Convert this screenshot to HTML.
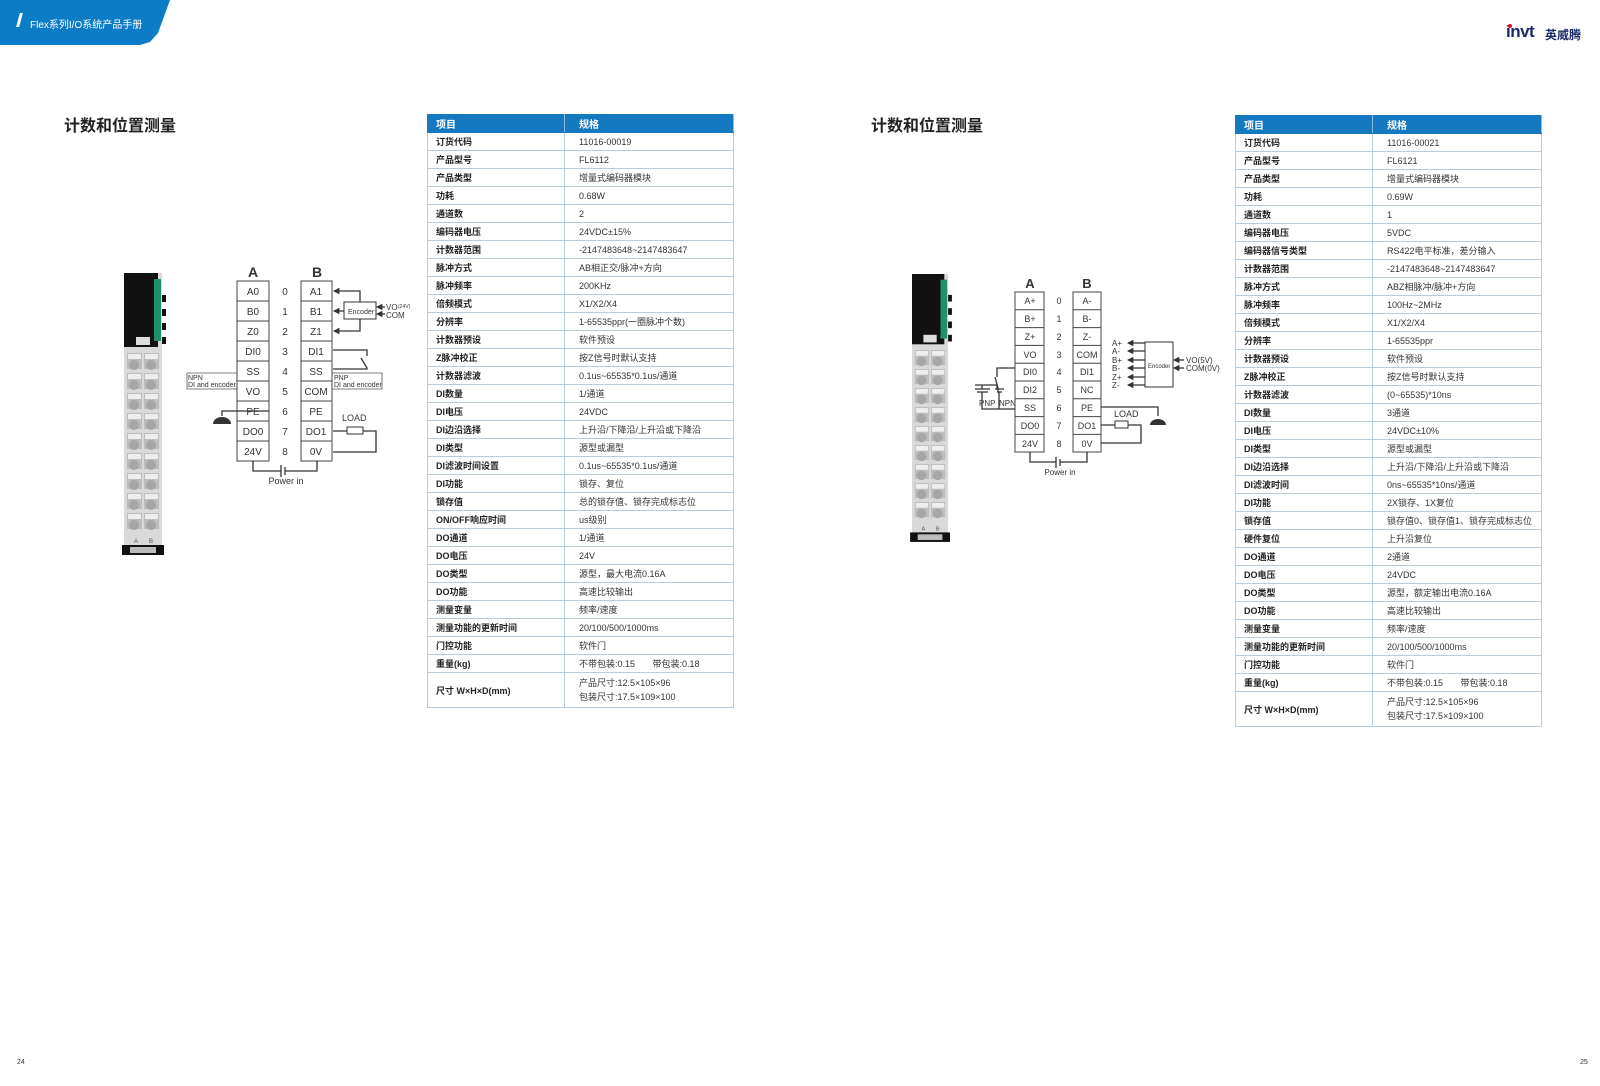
<!DOCTYPE html>
<html><head><meta charset="utf-8">
<style>
html,body{margin:0;padding:0;background:#fff;}
body{width:1600px;height:1086px;position:relative;overflow:hidden;font-family:"Liberation Sans","Noto Sans CJK SC",sans-serif;}
.tab{position:absolute;left:0;top:0;width:170px;height:45px;background:#0c7cc6;clip-path:polygon(0 0,170px 0,158px 33px,150px 42px,140px 45px,0 45px);}
.tab span{position:absolute;left:30px;top:16px;color:#fff;font-size:10px;}
.tab i{position:absolute;left:18px;top:13px;width:3px;height:14px;background:#fff;transform:skewX(-15deg);}
.title{position:absolute;top:112px;font-size:16px;font-weight:bold;color:#222;}
table.spec{position:absolute;border-collapse:collapse;font-size:9px;color:#333;table-layout:fixed;}
table.spec td{border:1px solid #b5cddd;height:17px;padding:0;white-space:nowrap;overflow:hidden;}
table.spec td.k{padding-left:8px;font-weight:bold;color:#222;}
table.spec td.v{padding-left:14px;}
table.spec tr.h td{background:#1479c1;color:#fff;font-weight:bold;font-size:10px;border-color:#1479c1;border-right-color:#8cbce0;}
table.spec tr.big td{height:34px;}
.pn{position:absolute;top:1059px;font-size:7px;color:#333;}
</style></head><body>
<div class="tab"><i></i><span>Flex系列I/O系统产品手册</span></div>
<div style="position:absolute;left:1506px;top:22px;font-size:17px;font-weight:900;color:#1b2a6b;letter-spacing:-0.5px;">invt</div>
<div style="position:absolute;left:1508px;top:24px;width:4px;height:4px;border-radius:2px;background:#d0102a;"></div>
<div style="position:absolute;left:1545px;top:26px;font-size:12px;font-weight:bold;color:#1b2a6b;">英威腾</div>

<div class="title" style="left:64px;">计数和位置测量</div>
<div class="title" style="left:871px;">计数和位置测量</div>

<table class="spec" style="left:427px;top:114px;width:306px;">
<colgroup><col style="width:137px"><col style="width:169px"></colgroup>
<tr class="h"><td class="k">项目</td><td class="v">规格</td></tr>
<tr><td class="k">订货代码</td><td class="v">11016-00019</td></tr>
<tr><td class="k">产品型号</td><td class="v">FL6112</td></tr>
<tr><td class="k">产品类型</td><td class="v">增量式编码器模块</td></tr>
<tr><td class="k">功耗</td><td class="v">0.68W</td></tr>
<tr><td class="k">通道数</td><td class="v">2</td></tr>
<tr><td class="k">编码器电压</td><td class="v">24VDC±15%</td></tr>
<tr><td class="k">计数器范围</td><td class="v">-2147483648~2147483647</td></tr>
<tr><td class="k">脉冲方式</td><td class="v">AB相正交/脉冲+方向</td></tr>
<tr><td class="k">脉冲频率</td><td class="v">200KHz</td></tr>
<tr><td class="k">倍频模式</td><td class="v">X1/X2/X4</td></tr>
<tr><td class="k">分辨率</td><td class="v">1-65535ppr(一圈脉冲个数)</td></tr>
<tr><td class="k">计数器预设</td><td class="v">软件预设</td></tr>
<tr><td class="k">Z脉冲校正</td><td class="v">按Z信号时默认支持</td></tr>
<tr><td class="k">计数器滤波</td><td class="v">0.1us~65535*0.1us/通道</td></tr>
<tr><td class="k">DI数量</td><td class="v">1/通道</td></tr>
<tr><td class="k">DI电压</td><td class="v">24VDC</td></tr>
<tr><td class="k">DI边沿选择</td><td class="v">上升沿/下降沿/上升沿或下降沿</td></tr>
<tr><td class="k">DI类型</td><td class="v">源型或漏型</td></tr>
<tr><td class="k">DI滤波时间设置</td><td class="v">0.1us~65535*0.1us/通道</td></tr>
<tr><td class="k">DI功能</td><td class="v">锁存、复位</td></tr>
<tr><td class="k">锁存值</td><td class="v">总的锁存值、锁存完成标志位</td></tr>
<tr><td class="k">ON/OFF响应时间</td><td class="v">us级别</td></tr>
<tr><td class="k">DO通道</td><td class="v">1/通道</td></tr>
<tr><td class="k">DO电压</td><td class="v">24V</td></tr>
<tr><td class="k">DO类型</td><td class="v">源型，最大电流0.16A</td></tr>
<tr><td class="k">DO功能</td><td class="v">高速比较输出</td></tr>
<tr><td class="k">测量变量</td><td class="v">频率/速度</td></tr>
<tr><td class="k">测量功能的更新时间</td><td class="v">20/100/500/1000ms</td></tr>
<tr><td class="k">门控功能</td><td class="v">软件门</td></tr>
<tr><td class="k">重量(kg)</td><td class="v">不带包装:0.15&nbsp;&nbsp;&nbsp;&nbsp;&nbsp;&nbsp;&nbsp;带包装:0.18</td></tr>
<tr class="big"><td class="k">尺寸 W×H×D(mm)</td><td class="v" style="line-height:14px;">产品尺寸:12.5×105×96<br>包装尺寸:17.5×109×100</td></tr>
</table>

<table class="spec" style="left:1235px;top:115px;width:306px;">
<colgroup><col style="width:137px"><col style="width:169px"></colgroup>
<tr class="h"><td class="k">项目</td><td class="v">规格</td></tr>
<tr><td class="k">订货代码</td><td class="v">11016-00021</td></tr>
<tr><td class="k">产品型号</td><td class="v">FL6121</td></tr>
<tr><td class="k">产品类型</td><td class="v">增量式编码器模块</td></tr>
<tr><td class="k">功耗</td><td class="v">0.69W</td></tr>
<tr><td class="k">通道数</td><td class="v">1</td></tr>
<tr><td class="k">编码器电压</td><td class="v">5VDC</td></tr>
<tr><td class="k">编码器信号类型</td><td class="v">RS422电平标准，差分输入</td></tr>
<tr><td class="k">计数器范围</td><td class="v">-2147483648~2147483647</td></tr>
<tr><td class="k">脉冲方式</td><td class="v">ABZ相脉冲/脉冲+方向</td></tr>
<tr><td class="k">脉冲频率</td><td class="v">100Hz~2MHz</td></tr>
<tr><td class="k">倍频模式</td><td class="v">X1/X2/X4</td></tr>
<tr><td class="k">分辨率</td><td class="v">1-65535ppr</td></tr>
<tr><td class="k">计数器预设</td><td class="v">软件预设</td></tr>
<tr><td class="k">Z脉冲校正</td><td class="v">按Z信号时默认支持</td></tr>
<tr><td class="k">计数器滤波</td><td class="v">(0~65535)*10ns</td></tr>
<tr><td class="k">DI数量</td><td class="v">3通道</td></tr>
<tr><td class="k">DI电压</td><td class="v">24VDC±10%</td></tr>
<tr><td class="k">DI类型</td><td class="v">源型或漏型</td></tr>
<tr><td class="k">DI边沿选择</td><td class="v">上升沿/下降沿/上升沿或下降沿</td></tr>
<tr><td class="k">DI滤波时间</td><td class="v">0ns~65535*10ns/通道</td></tr>
<tr><td class="k">DI功能</td><td class="v">2X锁存、1X复位</td></tr>
<tr><td class="k">锁存值</td><td class="v">锁存值0、锁存值1、锁存完成标志位</td></tr>
<tr><td class="k">硬件复位</td><td class="v">上升沿复位</td></tr>
<tr><td class="k">DO通道</td><td class="v">2通道</td></tr>
<tr><td class="k">DO电压</td><td class="v">24VDC</td></tr>
<tr><td class="k">DO类型</td><td class="v">源型，额定输出电流0.16A</td></tr>
<tr><td class="k">DO功能</td><td class="v">高速比较输出</td></tr>
<tr><td class="k">测量变量</td><td class="v">频率/速度</td></tr>
<tr><td class="k">测量功能的更新时间</td><td class="v">20/100/500/1000ms</td></tr>
<tr><td class="k">门控功能</td><td class="v">软件门</td></tr>
<tr><td class="k">重量(kg)</td><td class="v">不带包装:0.15&nbsp;&nbsp;&nbsp;&nbsp;&nbsp;&nbsp;&nbsp;带包装:0.18</td></tr>
<tr class="big"><td class="k">尺寸 W×H×D(mm)</td><td class="v" style="line-height:14px;">产品尺寸:12.5×105×96<br>包装尺寸:17.5×109×100</td></tr>
</table>

<svg width="1600" height="1086" style="position:absolute;left:0;top:0;" font-family="Liberation Sans, sans-serif">
<defs>
<marker id="ar" viewBox="0 0 6 6" refX="5" refY="3" markerWidth="5" markerHeight="5" orient="auto"><path d="M0,0L6,3L0,6z" fill="#333"/></marker>
<g id="dev">
<rect x="0" y="0" width="38" height="282" fill="#d9d9d9"/>
<rect x="0" y="0" width="34" height="74" fill="#111"/>
<rect x="30" y="6" width="7" height="62" fill="#1f8f6c"/>
<rect x="38" y="22" width="4" height="7" fill="#111"/><rect x="38" y="36" width="4" height="7" fill="#111"/><rect x="38" y="50" width="4" height="7" fill="#111"/><rect x="38" y="64" width="4" height="7" fill="#111"/>
<rect x="12" y="64" width="14" height="8" fill="#ddd"/>
<rect x="-2" y="272" width="42" height="10" fill="#111"/>
<rect x="6" y="274" width="26" height="6" fill="#bbb"/>
</g>
<g id="cells">
<rect x="3" y="0" width="15" height="16" fill="#bdbdbd"/><rect x="20" y="0" width="15" height="16" fill="#bdbdbd"/>
<rect x="4" y="1" width="13" height="5" fill="#eee"/><rect x="21" y="1" width="13" height="5" fill="#eee"/>
<circle cx="10" cy="12" r="5" fill="#a6a6a6"/><circle cx="27" cy="12" r="5" fill="#a6a6a6"/>
</g>
</defs>
<!-- left device -->
<g transform="translate(124,273)"><use href="#dev"/>
<g transform="translate(0,80)"><use href="#cells"/></g><g transform="translate(0,100)"><use href="#cells"/></g><g transform="translate(0,120)"><use href="#cells"/></g><g transform="translate(0,140)"><use href="#cells"/></g><g transform="translate(0,160)"><use href="#cells"/></g><g transform="translate(0,180)"><use href="#cells"/></g><g transform="translate(0,200)"><use href="#cells"/></g><g transform="translate(0,220)"><use href="#cells"/></g><g transform="translate(0,240)"><use href="#cells"/></g>
<text x="10" y="270" font-size="6" fill="#555">A</text><text x="25" y="270" font-size="6" fill="#555">B</text>
</g>
<!-- right device -->
<g transform="translate(912,274) scale(0.95)"><use href="#dev"/>
<g transform="translate(0,80)"><use href="#cells"/></g><g transform="translate(0,100)"><use href="#cells"/></g><g transform="translate(0,120)"><use href="#cells"/></g><g transform="translate(0,140)"><use href="#cells"/></g><g transform="translate(0,160)"><use href="#cells"/></g><g transform="translate(0,180)"><use href="#cells"/></g><g transform="translate(0,200)"><use href="#cells"/></g><g transform="translate(0,220)"><use href="#cells"/></g><g transform="translate(0,240)"><use href="#cells"/></g>
<text x="10" y="270" font-size="6" fill="#555">A</text><text x="25" y="270" font-size="6" fill="#555">B</text>
</g>

<!-- LEFT DIAGRAM -->
<g stroke="#444" stroke-width="1" fill="#fff">
<rect x="237" y="281" width="32" height="180"/>
<rect x="301" y="281" width="31" height="180"/>
<path d="M237 301H269M237 321H269M237 341H269M237 361H269M237 381H269M237 401H269M237 421H269M237 441H269" fill="none"/>
<path d="M301 301H332M301 321H332M301 341H332M301 361H332M301 381H332M301 401H332M301 421H332M301 441H332" fill="none"/>
</g>
<g font-size="10" fill="#333" text-anchor="middle">
<text x="253" y="277" font-size="14" font-weight="bold">A</text><text x="317" y="277" font-size="14" font-weight="bold">B</text>
<text x="253" y="295">A0</text><text x="253" y="315">B0</text><text x="253" y="335">Z0</text><text x="253" y="355">DI0</text><text x="253" y="375">SS</text><text x="253" y="395">VO</text><text x="253" y="415">PE</text><text x="253" y="435">DO0</text><text x="253" y="455">24V</text>
<text x="316" y="295">A1</text><text x="316" y="315">B1</text><text x="316" y="335">Z1</text><text x="316" y="355">DI1</text><text x="316" y="375">SS</text><text x="316" y="395">COM</text><text x="316" y="415">PE</text><text x="316" y="435">DO1</text><text x="316" y="455">0V</text>
<text x="285" y="295">0</text><text x="285" y="315">1</text><text x="285" y="335">2</text><text x="285" y="355">3</text><text x="285" y="375">4</text><text x="285" y="395">5</text><text x="285" y="415">6</text><text x="285" y="435">7</text><text x="285" y="455">8</text>
<text x="286" y="484" font-size="9">Power in</text>
</g>
<g stroke="#333" stroke-width="1.3" fill="none">
<rect x="344" y="302" width="32" height="17" stroke-width="1" fill="#fff"/>
<path d="M360 302V291H334" marker-end="url(#ar)"/>
<path d="M360 319V331H334" marker-end="url(#ar)"/>
<path d="M344 311H334" marker-end="url(#ar)"/>
<path d="M385 307H377" marker-end="url(#ar)"/>
<path d="M385 314H377" marker-end="url(#ar)"/>
<path d="M333 350H367V356M361 358L367 368V369H333" />
<path d="M269 411H222V416"/>
<path d="M333 431H347M363 431H376V452H333"/>
<rect x="347" y="427" width="16" height="7" stroke-width="1"/>
<path d="M253 461V471H281M285 471H317V461"/>
<path d="M281 465V477M285 467V475"/>
</g>
<path d="M213 424a9 7 0 0 1 18 0z" fill="#333"/>
<g font-size="7" fill="#333">
<text x="348" y="314">Encoder</text>
<text x="386" y="310" font-size="8">VO</text><text x="398" y="308" font-size="5">(24V)</text>
<text x="386" y="318" font-size="8">COM</text>
<text x="188" y="380">NPN</text><text x="188" y="387">DI and encoder</text>
<text x="334" y="380">PNP</text><text x="334" y="387">DI and encoder</text>
<text x="342" y="421" font-size="9">LOAD</text>
</g>
<g stroke="#555" stroke-width="0.8" fill="none">
<path d="M237 373H187V389H237"/><path d="M332 373H382V389H332"/>
</g>

<!-- RIGHT DIAGRAM -->
<g stroke="#444" stroke-width="1" fill="#fff">
<rect x="1015" y="292" width="29" height="160"/>
<rect x="1073" y="292" width="28" height="160"/>
<path d="M1015 309.8H1044M1015 327.6H1044M1015 345.4H1044M1015 363.2H1044M1015 381H1044M1015 398.8H1044M1015 416.6H1044M1015 434.4H1044" fill="none"/>
<path d="M1073 309.8H1101M1073 327.6H1101M1073 345.4H1101M1073 363.2H1101M1073 381H1101M1073 398.8H1101M1073 416.6H1101M1073 434.4H1101" fill="none"/>
</g>
<g font-size="9" fill="#333" text-anchor="middle">
<text x="1030" y="288" font-size="13" font-weight="bold">A</text><text x="1087" y="288" font-size="13" font-weight="bold">B</text>
<text x="1030" y="304">A+</text><text x="1030" y="322">B+</text><text x="1030" y="340">Z+</text><text x="1030" y="358">VO</text><text x="1030" y="375">DI0</text><text x="1030" y="393">DI2</text><text x="1030" y="411">SS</text><text x="1030" y="429">DO0</text><text x="1030" y="447">24V</text>
<text x="1087" y="304">A-</text><text x="1087" y="322">B-</text><text x="1087" y="340">Z-</text><text x="1087" y="358">COM</text><text x="1087" y="375">DI1</text><text x="1087" y="393">NC</text><text x="1087" y="411">PE</text><text x="1087" y="429">DO1</text><text x="1087" y="447">0V</text>
<text x="1059" y="304">0</text><text x="1059" y="322">1</text><text x="1059" y="340">2</text><text x="1059" y="358">3</text><text x="1059" y="375">4</text><text x="1059" y="393">5</text><text x="1059" y="411">6</text><text x="1059" y="429">7</text><text x="1059" y="447">8</text>
<text x="1060" y="475" font-size="8">Power in</text>
</g>
<g stroke="#333" stroke-width="1.3" fill="none">
<rect x="1145" y="342" width="28" height="45" stroke-width="1" fill="#fff"/>
<path d="M1145 343H1128" marker-end="url(#ar)"/><path d="M1145 351H1128" marker-end="url(#ar)"/>
<path d="M1145 360H1128" marker-end="url(#ar)"/><path d="M1145 368H1128" marker-end="url(#ar)"/>
<path d="M1145 377H1128" marker-end="url(#ar)"/><path d="M1145 385H1128" marker-end="url(#ar)"/>
<path d="M1184 360H1174" marker-end="url(#ar)"/><path d="M1184 368H1174" marker-end="url(#ar)"/>
<path d="M1015 368H997V377M995 377L998 388M998 388V392"/>
<path d="M975 389H990M977 392H988M995 389H1004M997 392H1002" />
<path d="M975 385H997V389M982 385V389"/>
<path d="M982 392V409H1015M999 392V409"/>
<path d="M1101 407H1158V416"/>
<path d="M1101 425H1115M1128 425H1141V443H1101"/>
<rect x="1115" y="421" width="13" height="7" stroke-width="1"/>
<path d="M1030 452V462H1056M1060 462H1087V452"/>
<path d="M1056 457V468M1060 459V466"/>
</g>
<path d="M1150 425a8 6 0 0 1 16 0z" fill="#333"/>
<g font-size="8" fill="#333">
<text x="1112" y="346">A+</text><text x="1112" y="354">A-</text><text x="1112" y="363">B+</text><text x="1112" y="371">B-</text><text x="1112" y="380">Z+</text><text x="1112" y="388">Z-</text>
<text x="1148" y="368" font-size="6">Encoder</text>
<text x="1186" y="363">VO(5V)</text><text x="1186" y="371">COM(0V)</text>
<text x="979" y="406">PNP</text><text x="999" y="406">NPN</text>
<text x="1114" y="417" font-size="9">LOAD</text>
</g>
</svg>
<div class="pn" style="left:17px;">24</div>
<div class="pn" style="left:1580px;">25</div>
</body></html>
